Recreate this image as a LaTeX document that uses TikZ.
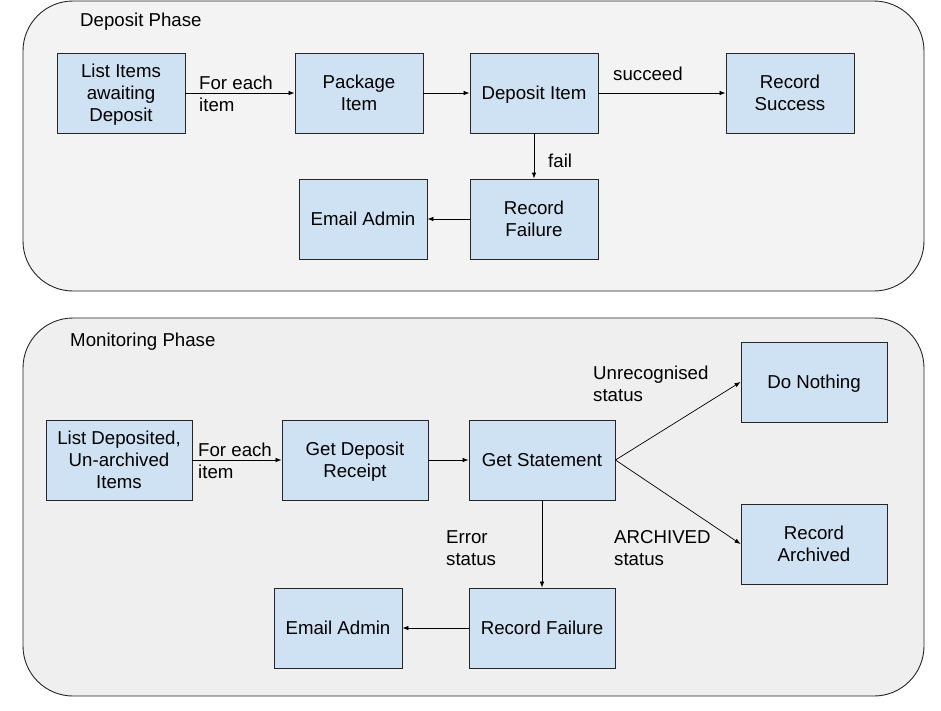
\documentclass[tikz,border=0pt]{standalone}
\usepackage{fontspec}
\setmainfont{Liberation Sans}
\usetikzlibrary{arrows.meta}
\definecolor{boxblue}{HTML}{CFE2F3}
\definecolor{phaseA}{HTML}{F3F3F3}
\definecolor{phaseB}{HTML}{EFEFEF}
\newcommand{\lst}{\rule[-0.212em]{0pt}{1.117em}}
\begin{document}
\begin{tikzpicture}[x=1pt,y=-1pt,
  every node/.style={font=\fontsize{18.67pt}{22pt}\selectfont},
  proc/.style={draw=black!85, fill=boxblue, minimum height=80pt, align=center, inner sep=0pt, line width=0.9pt},
  phasebox/.style={draw=black!85, line width=0.9pt, rounded corners=50pt, inner sep=0pt, minimum width=901pt},
  arr/.style={-{Latex[length=6pt,width=4.5pt]}, line width=0.7pt},
  lbl/.style={align=left, inner sep=0pt, anchor=west}]
\useasboundingbox (0,0) rectangle (941,710);
% phase containers
\node[phasebox, fill=phaseA, minimum height=290pt] (p1) at (473.5,146) {};
\node[phasebox, fill=phaseB, minimum height=378pt] (p2) at (473.5,507) {};
\node[lbl] (t1) at (80,20.2) {\lst Deposit Phase};
\node[lbl] (t2) at (70,340.2) {\lst Monitoring Phase};
% deposit phase
\node[proc, minimum width=128pt] (a1) at (121,93) {\lst List Items\\\lst awaiting\\\lst Deposit};
\node[proc, minimum width=128pt] (a2) at (359,93) {\lst Package\\\lst Item};
\node[proc, minimum width=128pt] (a3) at (534,93) {\lst Deposit Item};
\node[proc, minimum width=128pt] (a4) at (790,93) {\lst Record\\\lst Success};
\node[proc, minimum width=128pt] (a5) at (534,219) {\lst Record\\\lst Failure};
\node[proc, minimum width=128pt] (a6) at (363,219) {\lst Email Admin};
\draw[arr] (a1) -- (a2);
\draw[arr] (a2) -- (a3);
\draw[arr] (a3) -- (a4);
\draw[arr] (a3) -- (a5);
\draw[arr] (a5) -- (a6);
\node[lbl] (la1) at (199,94.3) {\lst For each\\\lst item};
\node[lbl] (la2) at (613,74.5) {\lst succeed};
\node[lbl] (la3) at (548,161.5) {\lst fail};
% monitoring phase
\node[proc, minimum width=146pt] (b1) at (119,460) {\lst List Deposited,\\\lst Un-archived\\\lst Items};
\node[proc, minimum width=146pt] (b2) at (355,460) {\lst Get Deposit\\\lst Receipt};
\node[proc, minimum width=146pt] (b3) at (542,460) {\lst Get Statement};
\node[proc, minimum width=146pt] (b4) at (814,382) {\lst Do Nothing};
\node[proc, minimum width=146pt] (b5) at (814,544) {\lst Record\\\lst Archived};
\node[proc, minimum width=146pt] (b6) at (542,628) {\lst Record Failure};
\node[proc, minimum width=128pt] (b7) at (338,628) {\lst Email Admin};
\draw[arr] (b1) -- (b2);
\draw[arr] (b2) -- (b3);
\draw[arr] (b3.east) -- (b4.west);
\draw[arr] (b3.east) -- (b5.west);
\draw[arr] (b3) -- (b6);
\draw[arr] (b6) -- (b7);
\node[lbl] (lb1) at (198,461) {\lst For each\\\lst item};
\node[lbl] (lb2) at (593,384.3) {\lst Unrecognised\\\lst status};
\node[lbl] (lb3) at (614,547.6) {\lst ARCHIVED\\\lst status};
\node[lbl] (lb4) at (446,547.6) {\lst Error\\\lst status};
\end{tikzpicture}
\end{document}
